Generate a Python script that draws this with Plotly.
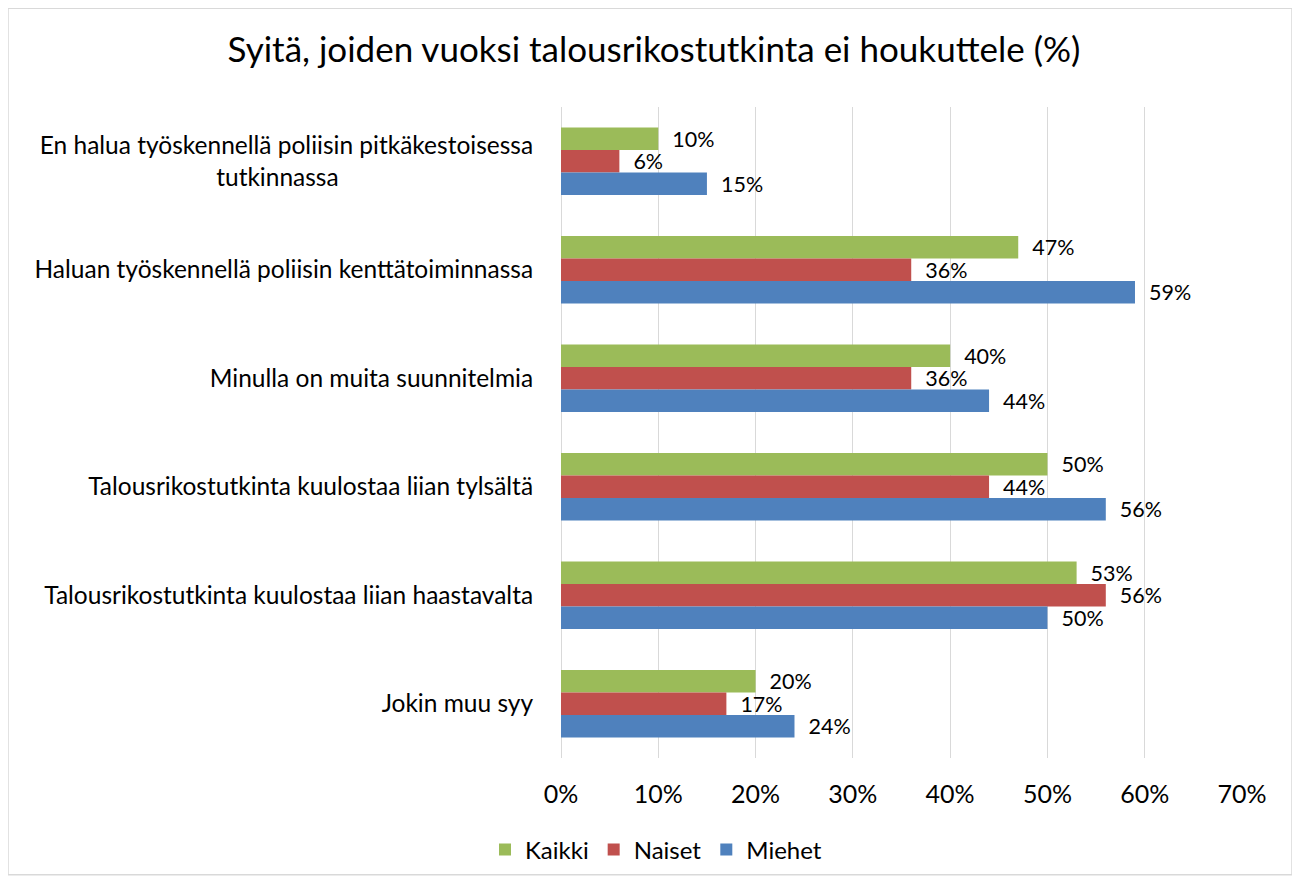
import plotly.graph_objects as go

kategoriat = [
    "En halua työskennellä poliisin pitkäkestoisessa<br>tutkinnassa" + "\u00a0" * 31,
    "Haluan työskennellä poliisin kenttätoiminnassa",
    "Minulla on muita suunnitelmia",
    "Talousrikostutkinta kuulostaa liian tylsältä",
    "Talousrikostutkinta kuulostaa liian haastavalta",
    "Jokin muu syy",
]
kaikki = [10, 47, 40, 50, 53, 20]
naiset = [6, 36, 36, 44, 56, 17]
miehet = [15, 59, 44, 56, 50, 24]

sarjat = [
    ("Kaikki", kaikki, "#9BBB59"),
    ("Naiset", naiset, "#C0504D"),
    ("Miehet", miehet, "#4F81BD"),
]

fnt = "Lato, 'Open Sans', sans-serif"

# sivun body-marginaali (8px) huomioitu: kuva 1292x875
W, H = 1292, 875
L, R, T, B = 553, 58, 99, 124
pw, ph = W - L - R, H - T - B

fig = go.Figure()
for nimi, arvot, vari in sarjat:
    fig.add_trace(go.Bar(
        name=nimi,
        y=kategoriat,
        x=arvot,
        orientation="h",
        marker=dict(color=vari, line=dict(width=0)),
        texttemplate="\u00a0\u00a0%{x}",
        textposition="outside",
        constraintext="none",
        cliponaxis=False,
        textfont=dict(size=21.5, color="black", family=fnt),
    ))

fig.update_layout(
    width=W, height=H,
    barmode="group",
    bargap=0.38,
    bargroupgap=0,
    plot_bgcolor="white",
    paper_bgcolor="white",
    font=dict(family=fnt, color="black"),
    title=dict(
        text="Syitä, joiden vuoksi talousrikostutkinta ei houkuttele (%)",
        x=0.5, xanchor="center", y=1 - 42 / H, yanchor="middle",
        font=dict(size=35, color="black", family=fnt),
    ),
    margin=dict(l=L, r=R, t=T, b=B),
    legend=dict(
        orientation="h", x=(648 - L) / pw, xanchor="center",
        y=(ph - (842 - T)) / ph, yanchor="middle",
        font=dict(size=24, family=fnt),
        traceorder="normal",
    ),
    xaxis=dict(
        range=[0, 70], dtick=10,
        ticksuffix="%",
        showgrid=True, gridcolor="#d9d9d9", gridwidth=1,
        zeroline=True, zerolinecolor="#d9d9d9", zerolinewidth=1,
        ticks="outside", ticklen=14, tickcolor="rgba(0,0,0,0)",
        tickfont=dict(size=25, family=fnt),
        fixedrange=True,
    ),
    yaxis=dict(
        autorange="reversed",
        ticks="outside", ticklen=22, tickcolor="rgba(0,0,0,0)",
        tickfont=dict(size=24.5, family=fnt),
        showgrid=False,
    ),
    shapes=[dict(
        type="rect", xref="paper", yref="paper",
        x0=(0 - L) / pw, x1=(1284 - L) / pw,
        y0=(ph + T - 868) / ph, y1=(ph + T) / ph,
        line=dict(color="#d9d9d9", width=1.5),
        fillcolor="rgba(0,0,0,0)", layer="below",
    )],
)

fig.write_html("out.html")
